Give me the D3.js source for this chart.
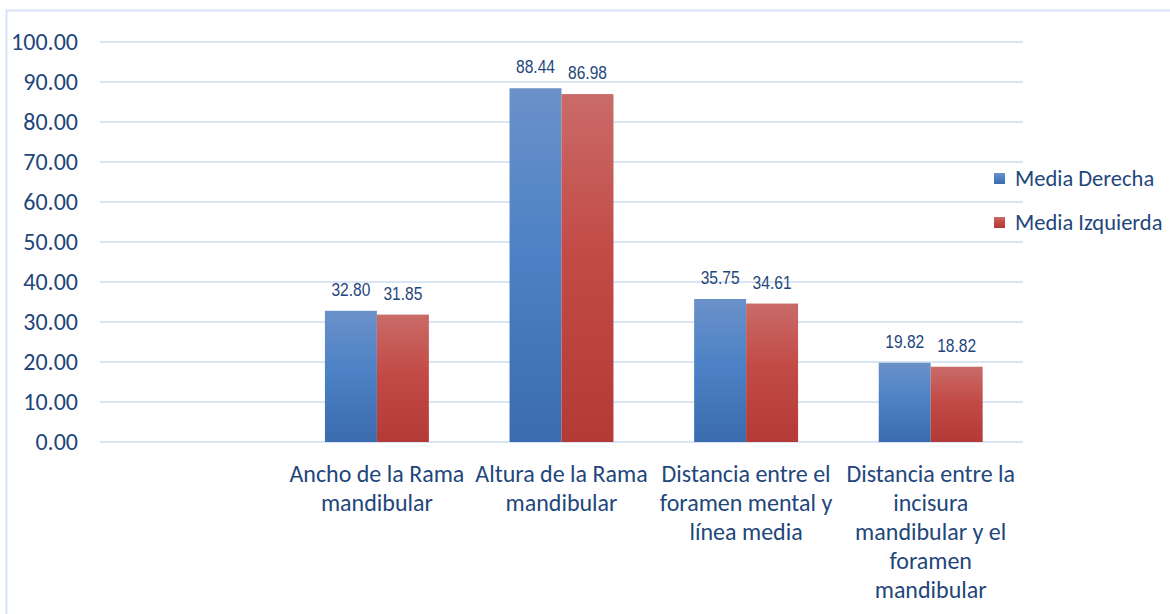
<!DOCTYPE html>
<html><head><meta charset="utf-8">
<script src="https://cdn.jsdelivr.net/npm/d3@7"></script>
<style>
html,body{margin:0;padding:0;background:#fff;}
svg{display:block;}
</style></head>
<body>
<svg id="chart" width="1170" height="614"></svg>
<script>
const categories = ["", "Ancho de la Rama\nmandibular", "Altura de la Rama\nmandibular", "Distancia entre el\nforamen mental y\nlínea media", "Distancia entre la\nincisura\nmandibular y el\nforamen\nmandibular"];
const seriesNames = ["Media Derecha", "Media Izquierda"];
const mediaDerecha = [null, 32.80, 88.44, 35.75, 19.82];
const mediaIzquierda = [null, 31.85, 86.98, 34.61, 18.82];
const yTicks = [0, 10, 20, 30, 40, 50, 60, 70, 80, 90, 100];

const svg = d3.select("#chart");
const textColor = "#1f477b";
const gridColor = "#d9e5f5";
const fontMain = "Carlito, Calibri, 'Open Sans', 'Noto Sans', sans-serif";
const fontNarrow = "'Liberation Sans', Arial, sans-serif";

// chart border
svg.append("rect").attr("x", 6.5).attr("y", 10.5).attr("width", 1180).attr("height", 620)
  .attr("fill", "none").attr("stroke", "#d6e3f5").attr("stroke-width", 2);

const defs = svg.append("defs");
const grads = [
  {id: "gBlue", stops: [["0%", "#6b91c9"], ["45%", "#4d82c6"], ["100%", "#3a6cae"]]},
  {id: "gRed", stops: [["0%", "#c96b68"], ["45%", "#c34b47"], ["100%", "#b33a36"]]}
];
grads.forEach(g => {
  const lg = defs.append("linearGradient").attr("id", g.id).attr("x1", 0).attr("y1", 0).attr("x2", 0).attr("y2", 1);
  g.stops.forEach(s => lg.append("stop").attr("offset", s[0]).attr("stop-color", s[1]));
});
const fills = ["url(#gBlue)", "url(#gRed)"];

const x0 = d3.scaleBand().domain(d3.range(categories.length)).range([100, 1023])
  .paddingInner(0.437).paddingOuter(0.2185);
const x1 = d3.scaleBand().domain([0, 1]).range([0, x0.bandwidth()]);
const y = d3.scaleLinear().domain([0, 100]).range([442, 42]);

// gridlines
svg.append("g").selectAll("line").data(yTicks).join("line")
  .attr("x1", 100).attr("x2", 1023)
  .attr("y1", d => y(d)).attr("y2", d => y(d))
  .attr("stroke", gridColor).attr("stroke-width", 2);

// y axis labels
const yAxis = d3.axisLeft(y).tickValues(yTicks).tickFormat(d3.format(".2f")).tickSize(0).tickPadding(0);
const yg = svg.append("g").attr("transform", "translate(78,0)").call(yAxis);
yg.select(".domain").remove();
yg.selectAll("text").attr("fill", textColor).style("font-family", fontMain).style("font-size", "24px").attr("dy", "0.33em");

// bars
const series = [mediaDerecha, mediaIzquierda];
series.forEach((vals, si) => {
  const g = svg.append("g");
  const data = vals.map((v, i) => ({v, i})).filter(d => d.v !== null);
  g.selectAll("rect").data(data).join("rect")
    .attr("x", d => x0(d.i) + x1(si))
    .attr("width", x1.bandwidth())
    .attr("y", d => y(d.v))
    .attr("height", d => y(0) - y(d.v))
    .attr("fill", fills[si]);
  g.selectAll("text").data(data).join("text")
    .attr("transform", d => `translate(${x0(d.i) + x1(si) + x1.bandwidth() / 2},${y(d.v) - 15}) scale(0.82,1)`)
    .attr("text-anchor", "middle")
    .attr("fill", textColor)
    .style("font-family", fontNarrow)
    .style("font-size", "19px")
    .text(d => d3.format(".2f")(d.v));
});

// x labels
const xl = svg.append("g");
categories.forEach((c, i) => {
  if (!c) return;
  const t = xl.append("text")
    .attr("x", x0(i) + x0.bandwidth() / 2)
    .attr("y", 482)
    .attr("text-anchor", "middle")
    .attr("fill", textColor)
    .style("font-family", fontMain)
    .style("font-size", "24px");
  c.split("\n").forEach((line, li) => {
    t.append("tspan").attr("x", x0(i) + x0.bandwidth() / 2).attr("dy", li === 0 ? 0 : 29).text(line);
  });
});

// legend
const leg = svg.append("g");
seriesNames.forEach((n, i) => {
  const yy = 179 + i * 44;
  leg.append("rect").attr("x", 994).attr("y", yy - 6).attr("width", 11).attr("height", 11).attr("fill", fills[i]);
  leg.append("text").attr("x", 1015).attr("y", yy).attr("dy", "0.33em")
    .attr("fill", textColor).style("font-family", fontMain).style("font-size", "22.5px").text(n);
});
</script>
</body></html>
